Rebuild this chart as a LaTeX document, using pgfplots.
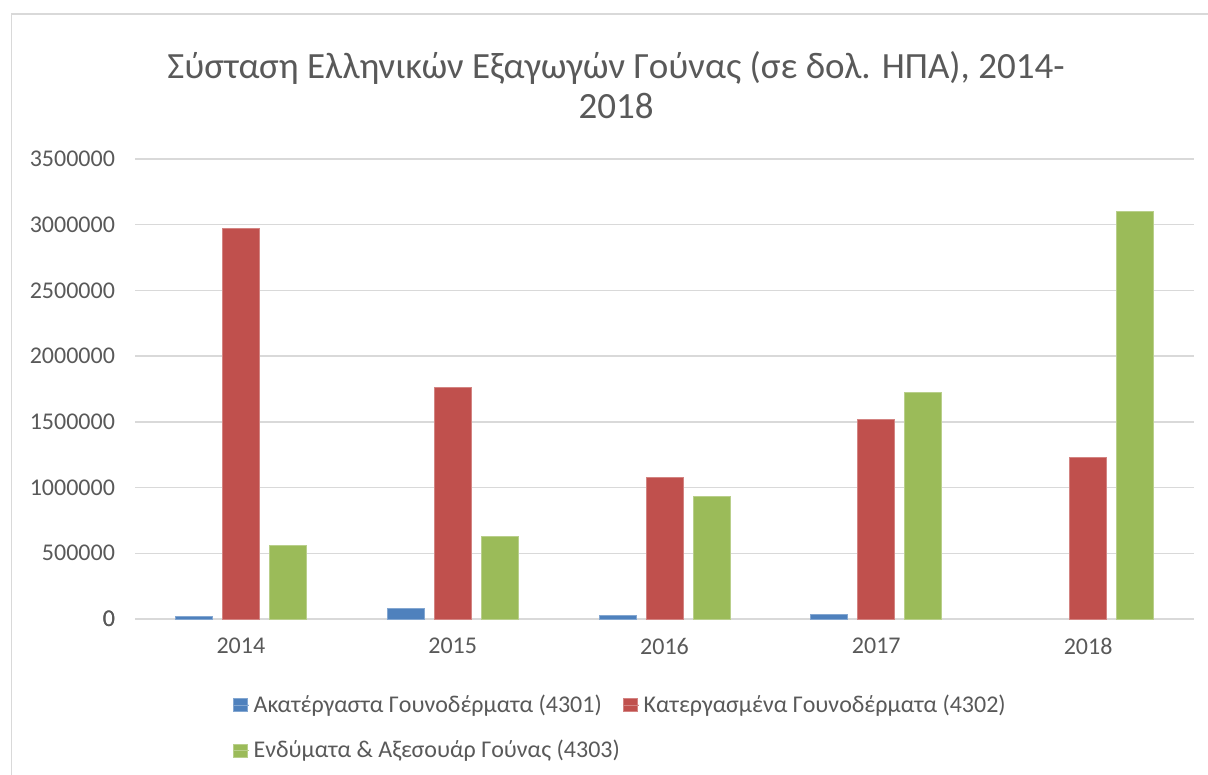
\documentclass[border=0pt]{standalone}
\usepackage{pgfplots}
\pgfplotsset{compat=1.18}
\usepackage{fontspec}
\setmainfont{Carlito}
\definecolor{sA}{HTML}{4F81BD}
\definecolor{sB}{HTML}{C0504D}
\definecolor{sC}{HTML}{9BBB59}
\definecolor{gridc}{HTML}{D9D9D9}
\definecolor{txt}{HTML}{595959}
\begin{document}
\begin{tikzpicture}[x=1pt,y=1pt]
\useasboundingbox (0,0) rectangle (604,387.5);
\draw[gridc, line width=0.75pt] (5.75,-5) -- (5.75,380.5) -- (610,380.5);
\node[text=txt, font=\fontsize{18.5}{20}\selectfont, align=center] at (308,345) {Σύσταση Ελληνικών Εξαγωγών Γούνας (σε δολ. ΗΠΑ), 2014-\\2018};
\begin{axis}[
  at={(67.5pt,78pt)}, anchor=south west,
  scale only axis, width=529.5pt, height=230pt,
  ybar=5pt, bar width=18.5pt,
  xmin=-0.5, xmax=4.5, ymin=0, ymax=3500000,
  xtick={0,1,2,3,4}, xticklabels={2014,2015,2016,2017,2018},
  ytick={0,500000,...,3500000},
  scaled y ticks=false,
  /pgf/number format/fixed, /pgf/number format/1000 sep={},
  /pgf/number format/assume math mode=true,
  axis line style={draw=none},
  axis x line*=bottom,
  major tick length=0pt,
  ymajorgrids, grid style={gridc, line width=0.75pt},
  tick label style={font=\fontsize{12}{14}\selectfont, text=txt},
  yticklabel style={xshift=-6.5pt},
  xticklabel style={yshift=-6pt},
  legend columns=2,
  legend cell align=left,
  legend style={at={(0.092,-0.155)}, anchor=north west, draw=none, inner sep=0pt,
    font=\fontsize{12}{14}\selectfont, text=txt,
    /tikz/every even column/.append style={column sep=-0.5pt},
    row sep=8.5pt},
  legend image code/.code={\fill[#1] (0pt,-3.25pt) rectangle (7pt,3.25pt); \path (0pt,0pt) -- (8pt,0pt);},
  extra y ticks={0}, extra y tick style={grid style={gridc, line width=1pt}},
]
\addplot[fill=sA, draw=sA!70!white] coordinates {(0,20000) (1,83000) (2,25000) (3,33000)};
\addplot[fill=sB, draw=sB!70!white] coordinates {(0,2974000) (1,1765000) (2,1076000) (3,1518000) (4,1228000)};
\addplot[fill=sC, draw=sC!70!white] coordinates {(0,561000) (1,629000) (2,932000) (3,1723000) (4,3099000)};
\legend{Ακατέργαστα Γουνοδέρματα (4301), Κατεργασμένα Γουνοδέρματα (4302), Ενδύματα \& Αξεσουάρ Γούνας (4303)}
\end{axis}
\end{tikzpicture}
\end{document}
